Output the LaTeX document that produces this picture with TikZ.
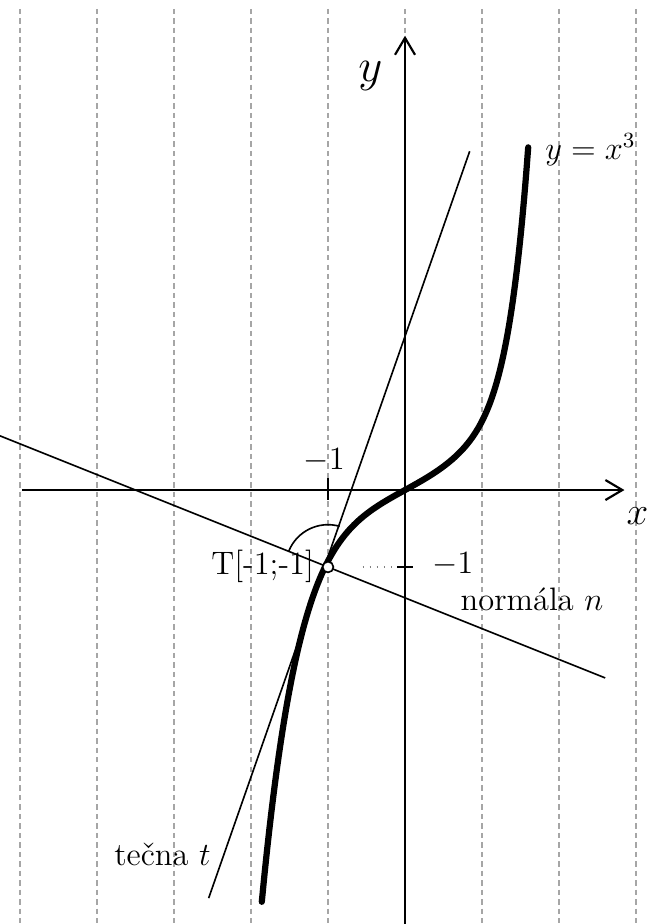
\documentclass[tikz,border=0pt]{standalone}
\usepackage{fontspec}
\usetikzlibrary{arrows.meta}

\tikzset{
  every node/.style={font=\normalsize},
  gridline/.style={gray!70, line width=0.4pt, dash pattern=on 2pt off 1.5pt},
  axisline/.style={-{Straight Barb[length=2.2mm,width=2.6mm]}, line width=0.8pt},
  cubic/.style={line width=2.3pt, line cap=round},
  thinline/.style={line width=0.6pt},
}

\begin{document}
\begin{tikzpicture}
    \useasboundingbox (-5.26,-5.636) rectangle (3.377,6.364);
    % vertical grid
    \foreach \gx in {-5,...,3}
      \draw[gridline] (\gx,6.25) -- (\gx,-5.64);
    % axes
    \draw[axisline] (-4.97,0) -- (2.85,0);
    \draw[axisline] (0,-5.64) -- (0,5.9);
    \node (xlab) at (3.02,-0.34) {\Large $x$};
    \node (ylab) at (-0.45,5.38) {\LARGE $y$};
    % ticks at -1
    \draw[thinline] (-1,-0.13) -- (-1,0.15);
    \draw[thinline] (-0.1,-1) -- (0.1,-1);
    \node (m1x) at (-1.05,0.38) {\large $-1$};
    \node (m1y) at (0.62,-0.97) {\large $-1$};
    % y = x^3 (sketched)
    \draw[cubic] plot[domain=-1.86:0, samples=60, smooth]
        (\x,{0.55*\x+0.25*\x*\x*\x+0.122*\x*\x*\x*\x*\x})
      -- plot[domain=0:1.6, samples=60, smooth]
        (\x,{0.55*\x+0.25*\x*\x*\x+0.095*\x*\x*\x*\x*\x*\x*\x});
    \node[anchor=west] (curvelab) at (1.7,4.42) {\large $y=x^3$};
    % tangent and normal at T
    \coordinate (T) at (-1,-1);
    \draw[thinline] (-2.55,-5.3) -- (0.84,4.4);
    \draw[thinline] (-5.26,0.704) -- (2.6,-2.44);
    \draw[gray, dotted, line width=0.6pt] (-0.55,-1) -- (-0.1,-1);
    \draw[thinline] (T) ++(158:0.55) arc[start angle=158, end angle=74, radius=0.55];
    \draw[thinline, fill=white] (T) circle[radius=0.07];
    \node[anchor=east] (Tlab) at (-1.06,-0.99) {\large T[-1;-1]};
    \node (nlab) at (1.65,-1.42) {\large normála $n$};
    \node (tlab) at (-3.15,-4.73) {\large tečna $t$};
\end{tikzpicture}
\end{document}
